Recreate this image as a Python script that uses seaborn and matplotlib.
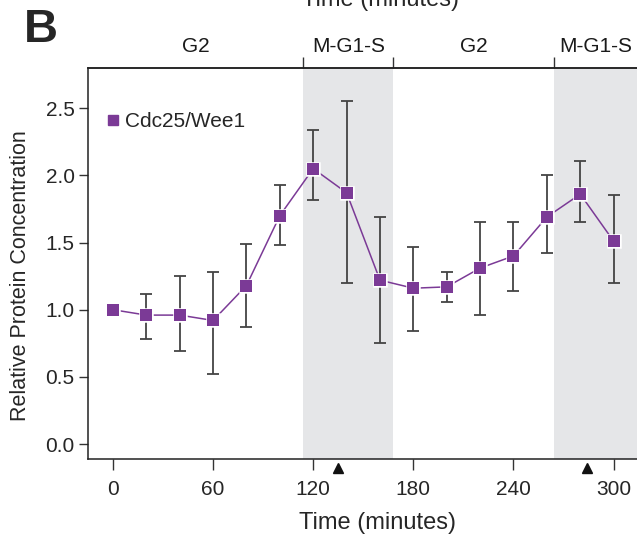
import numpy as np
import pandas as pd
import matplotlib
matplotlib.use("Agg")
import matplotlib.pyplot as plt
from matplotlib.lines import Line2D
import seaborn as sns

# Cdc25/Wee1 ratio over two cell cycles
time_min = [0, 20, 40, 60, 80, 100, 120, 140, 160, 180, 200, 220, 240, 260, 280, 300]
ratio = [1.00, 0.96, 0.96, 0.92, 1.18, 1.70, 2.05, 1.87, 1.22, 1.16, 1.17, 1.31, 1.40, 1.69, 1.86, 1.51]
err_upper = [1.00, 1.12, 1.25, 1.28, 1.49, 1.93, 2.34, 2.55, 1.69, 1.47, 1.28, 1.65, 1.65, 2.00, 2.11, 1.85]
err_lower = [1.00, 0.78, 0.69, 0.52, 0.87, 1.48, 1.82, 1.20, 0.75, 0.84, 1.06, 0.96, 1.14, 1.42, 1.65, 1.20]

# cell-cycle phases (start, end, label)
phase_starts = [-15, 114, 168, 264]
phase_ends = [114, 168, 264, 314]
phase_labels = ["G2", "M-G1-S", "G2", "M-G1-S"]
division_marks = [135, 284]

x_ticks = [0, 60, 120, 180, 240, 300]
y_ticks = [0.0, 0.5, 1.0, 1.5, 2.0, 2.5]

sns.set_theme(style="ticks")
plt.rcParams["font.family"] = ["Liberation Sans", "DejaVu Sans"]

purple = "#7B3A96"
shade = "#E5E6E8"

df = pd.DataFrame({"time": time_min, "ratio": ratio,
                   "lo": err_lower, "hi": err_upper})

fig = plt.figure(figsize=(6.37, 5.38), dpi=100)
ax = fig.add_axes([0.138, 0.147, 0.862, 0.727])

for s, e, lab in zip(phase_starts, phase_ends, phase_labels):
    if "M" in lab:
        ax.axvspan(s, e, color=shade, lw=0, zorder=0)

yerr = np.array([df["ratio"] - df["lo"], df["hi"] - df["ratio"]])
ax.errorbar(df["time"], df["ratio"], yerr=yerr, fmt="none", ecolor="#444444",
            elinewidth=1.3, capsize=4.5, capthick=1.3, zorder=2)

sns.lineplot(data=df, x="time", y="ratio", ax=ax, color=purple, lw=1.1,
             marker="s", markersize=8.5, markeredgecolor="white",
             markeredgewidth=1.8, zorder=3, legend=False)
# redraw markers without halo on top
ax.plot(df["time"], df["ratio"], ls="none", marker="s", markersize=8,
        color=purple, markeredgewidth=0, zorder=4)

ax.set_xlim(-15, 314)
ax.set_ylim(-0.11, 2.8)
ax.set_xticks(x_ticks)
ax.set_yticks(y_ticks)
ax.set_yticklabels([f"{v:.1f}" for v in y_ticks])
ax.tick_params(axis="x", length=8, width=1, color="#333333", labelsize=15, pad=7)
ax.tick_params(axis="y", length=6.5, width=1, color="#333333", labelsize=15, pad=3)
ax.set_xlabel("Time (minutes)", fontsize=17, labelpad=9)
ax.set_ylabel("Relative Protein Concentration", fontsize=15.5, labelpad=9)
ax.xaxis.set_label_coords(0.528, -0.135)
ax.yaxis.set_label_coords(-0.104, 0.468)

for side in ["left", "bottom", "top"]:
    ax.spines[side].set_linewidth(1.1)
    ax.spines[side].set_color("#222222")
ax.spines["right"].set_visible(False)

# phase boundaries on the top axis
top = ax.secondary_xaxis("top")
top.set_xticks([114, 168, 264])
top.set_xticklabels([])
top.tick_params(axis="x", length=8, width=1, color="#333333", direction="out")
top.spines["top"].set_linewidth(1.1)
top.spines["top"].set_color("#222222")

for s, e, lab in zip(phase_starts, phase_ends, phase_labels):
    ax.text((s + e) / 2, 1.055, lab, transform=ax.get_xaxis_transform(),
            ha="center", va="center", fontsize=15, color="#1a1a1a")

# arrowheads marking division
ax.plot(division_marks, [-0.022] * len(division_marks), ls="none", marker="^",
        markersize=7, color="#111111", transform=ax.get_xaxis_transform(),
        clip_on=False, zorder=5)

handle = Line2D([], [], ls="none", marker="s", markersize=7, color=purple)
ax.legend([handle], ["Cdc25/Wee1"], loc="upper left", frameon=False,
          fontsize=15, handlelength=0.6, handletextpad=0.3,
          bbox_to_anchor=(0.0, 0.935))

fig.text(0.037, 0.945, "B", fontsize=34, fontweight="bold", ha="left", va="center")
fig.text(0.598, 1.0, "Time (minutes)", fontsize=17, ha="center", va="center")

fig.savefig("out.png", dpi=100)
